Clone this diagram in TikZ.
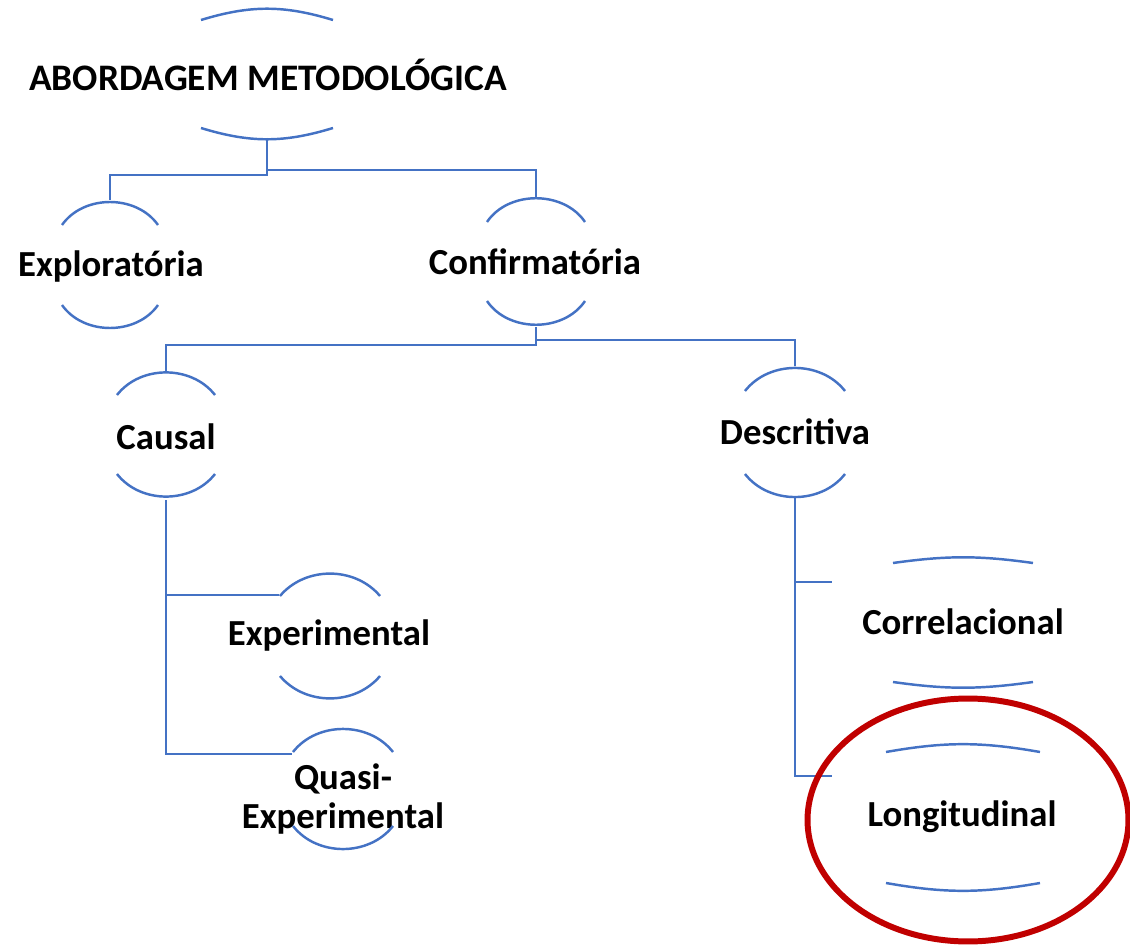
\documentclass[tikz,border=0pt]{standalone}
\usepackage{fontspec}
\setmainfont{Carlito}
\usetikzlibrary{shapes.geometric, positioning}

\definecolor{linkblue}{RGB}{68,114,196}
\definecolor{ringred}{RGB}{192,0,0}

\begin{document}
\begin{tikzpicture}[
            x=0.02cm, y=-0.02cm,
            % Style for the category labels
            lbl/.style={font=\fontsize{20.9}{22}\selectfont\bfseries, align=center, inner sep=0},
            % Style for the bracket arcs and the tree lines
            arcline/.style={draw=linkblue, line width=1.4pt},
            link/.style={draw=linkblue, line width=1.4pt},
            % Style for the red ring
            ring/.style={draw=ringred, line width=3.4pt, ellipse, minimum width=6.42cm, minimum height=4.86cm}
        ]
        \useasboundingbox (0,0) rectangle (1130,946);

        % --- Labels ---
        \node[lbl, font=\fontsize{21.3}{22}\selectfont\bfseries] (abord) at (268,75) {ABORDAGEM METODOLÓGICA};
        \node[lbl] (explor)  at (111,267) {Exploratória};
        \node[lbl] (confirm) at (535,262) {Confirmatória};
        \node[lbl] (causal)  at (166,437) {Causal};
        \node[lbl] (descr)   at (795,432) {Descritiva};
        \node[lbl] (exper)   at (329,636) {Experimental};
        \node[lbl] (quasi)   at (343,799) {Quasi-\\Experimental};
        \node[lbl] (correl)  at (963,622) {Correlacional};
        \node[lbl] (longit)  at (962,817) {Longitudinal};

        % --- Arcs above and below each label ---
        % name / x / top peak / top ends / bottom ends / bottom peak / half width / bend
        \foreach \n/\x/\ya/\yb/\yc/\yd/\w/\b in {
            abord/267/10/20/128/138/66/17,
            explor/110/200/225/305/330/48/55,
            confirm/536/197/222/301/327/49/56,
            causal/166/371/395/474/500/49/52,
            descr/795/366/391/474/497/50/52,
            exper/330/573/596/676/700/50/50,
            quasi/343/727/752/826/850/50/52,
            correl/963/558/563/682/687/70/8,
            longit/963/745/752/883/890/77/10} {
            \draw[arcline] (\x-\w,\yb) to[bend left=\b] (\x+\w,\yb);
            \draw[arcline] (\x-\w,\yc) to[bend right=\b] (\x+\w,\yc);
            \coordinate (\n-t) at (\x,\ya);
            \coordinate (\n-b) at (\x,\yd);
        }

        % --- Tree lines ---
        \draw[link] (abord-b) -- ++(0,37) -| (explor-t);
        \draw[link] (abord-b) -- ++(0,32) -| (confirm-t);
        \draw[link] (confirm-b) -- ++(0,18) -| (causal-t);
        \draw[link] (confirm-b) -- ++(0,13) -| (descr-t);

        % side branches end at the left end of the arcs
        \coordinate (exper-l) at (279,595);
        \coordinate (quasi-l) at (292,754);
        \coordinate (correl-l) at (832,582);
        \coordinate (longit-l) at (832,776);
        \draw[link] (causal-b) |- (exper-l);
        \draw[link] (causal-b) |- (quasi-l);
        \draw[link] (descr-b) |- (correl-l);
        \draw[link] (descr-b) |- (longit-l);

        % --- Red ring round the last label ---
        \node[ring] (mark) at (968,820) {};

        \end{tikzpicture}
\end{document}
